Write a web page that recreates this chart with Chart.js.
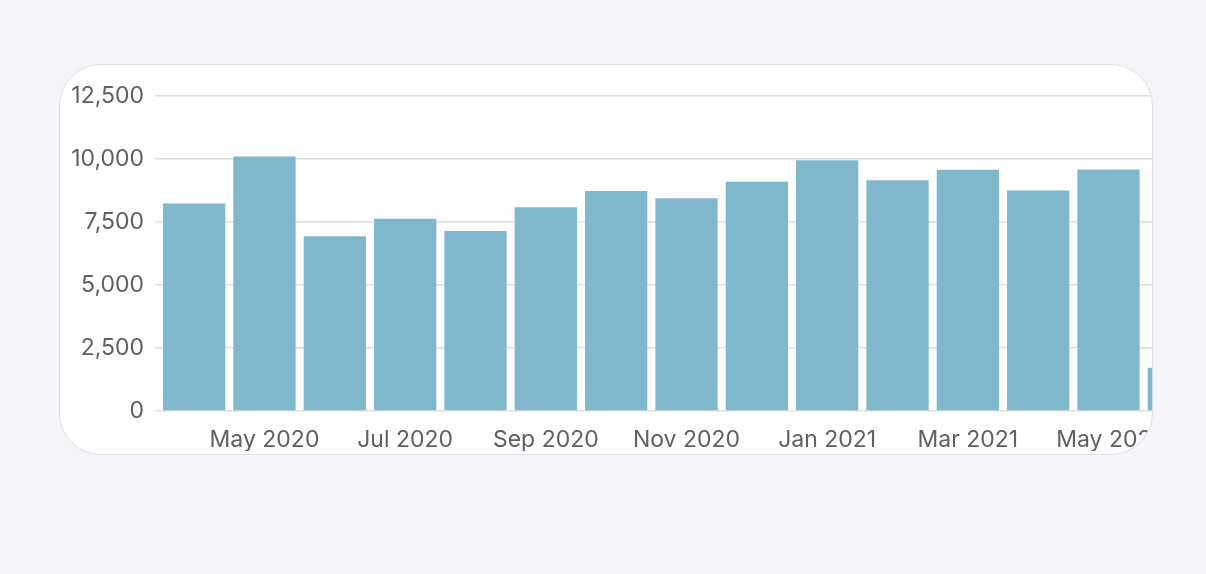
<!DOCTYPE html>
<html>
<head>
<meta charset="utf-8">
<script src="https://cdn.jsdelivr.net/npm/chart.js@4"></script>
<style>
  html, body { margin: 0; padding: 0; background: #f4f5f9; width: 1206px; height: 574px; overflow: hidden; }
  #card {
    position: absolute; left: 59px; top: 64px; width: 1094px; height: 391px;
    box-sizing: border-box; border: 1px solid #dfe0e5; border-radius: 42px;
    background: #fff; overflow: hidden;
  }
  #wrap { position: absolute; left: -60px; top: -65px; width: 1260px; height: 520px; }
</style>
</head>
<body>
<div id="card"><div id="wrap"><canvas id="c" width="1260" height="520"></canvas></div></div>
<script>
const months = ["Apr 2020","May 2020","Jun 2020","Jul 2020","Aug 2020","Sep 2020","Oct 2020","Nov 2020","Dec 2020","Jan 2021","Feb 2021","Mar 2021","Apr 2021","May 2021","Jun 2021"];
const visits = [8230, 10100, 6930, 7630, 7140, 8090, 8730, 8440, 9100, 9950, 9160, 9570, 8750, 9580, 1720];
const yTicks = [0, 2500, 5000, 7500, 10000, 12500];

new Chart(document.getElementById('c'), {
  type: 'bar',
  data: {
    labels: months,
    datasets: [{
      data: visits,
      backgroundColor: '#7fb8cc',
      borderWidth: 0,
      barPercentage: 0.885,
      categoryPercentage: 1
    }]
  },
  options: {
    responsive: false,
    animation: false,
    devicePixelRatio: 1,
    layout: { padding: { left: 60, top: 96, right: 46, bottom: 69 } },
    plugins: { legend: { display: false }, tooltip: { enabled: false } },
    scales: {
      x: {
        grid: { display: false },
        border: { display: false },
        afterFit: s => { s.height = 40; },
        ticks: {
          autoSkip: false, maxRotation: 0, padding: 7,
          color: '#606060', font: { family: 'Inter', size: 23 },
          callback: function(v, i) { return i % 2 === 1 ? months[i] : ''; }
        }
      },
      y: {
        min: yTicks[0], max: yTicks[yTicks.length - 1],
        afterBuildTicks: s => { s.ticks = yTicks.map(v => ({ value: v })); },
        afterFit: s => { s.width = 99; },
        grid: { color: '#dedede', lineWidth: 1.5, tickLength: 4 },
        border: { display: false },
        ticks: {
          padding: 11, color: '#606060', font: { family: 'Inter', size: 23 },
          callback: v => v.toLocaleString('en-US')
        }
      }
    }
  }
});
</script>
</body>
</html>
